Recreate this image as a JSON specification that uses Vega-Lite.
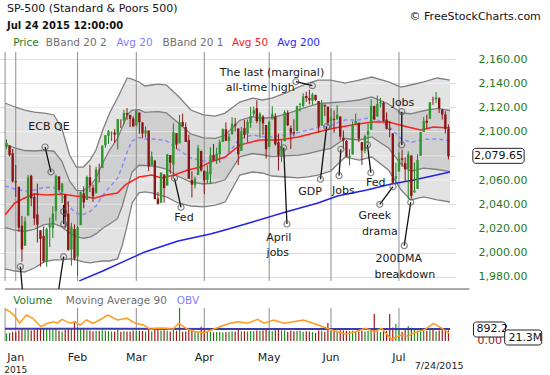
{
"$schema": "https://vega.github.io/schema/vega-lite/v6.json",
"width": 455, "height": 289,
"autosize": {"type": "none"},
"padding": {"left": 0, "top": 52, "right": 95, "bottom": 34},
"background": "#ffffff",
"config": {"view": {"stroke": null}, "font": "DejaVu Sans"},
"datasets": {
"ohlc": [
{"d":-3,"o":2087.6,"h":2093.6,"l":2085.8,"c":2090.6,"v":560},
{"d":-2,"o":2088.5,"h":2088.5,"l":2079.5,"c":2080.4,"v":600},
{"d":-1,"o":2082.1,"h":2085.6,"l":2057.9,"c":2058.9,"v":680},
{"d":0,"o":2058.9,"h":2072.4,"l":2046.0,"c":2058.2,"v":640},
{"d":1,"o":2054.4,"h":2054.4,"l":2017.3,"c":2020.6,"v":800},
{"d":2,"o":2022.2,"h":2030.3,"l":1992.4,"c":2002.6,"v":900},
{"d":3,"o":2005.6,"h":2029.6,"l":2005.6,"c":2025.9,"v":840},
{"d":4,"o":2030.6,"h":2064.1,"l":2030.6,"c":2062.1,"v":860},
{"d":5,"o":2063.5,"h":2064.4,"l":2038.3,"c":2044.8,"v":780},
{"d":6,"o":2046.1,"h":2049.3,"l":2022.6,"c":2028.3,"v":820},
{"d":7,"o":2031.6,"h":2056.9,"l":2008.3,"c":2023.0,"v":880},
{"d":8,"o":2018.4,"h":2018.4,"l":1988.4,"c":2011.3,"v":900},
{"d":9,"o":2013.8,"h":2021.4,"l":1991.5,"c":1992.7,"v":920},
{"d":10,"o":1992.3,"h":2020.5,"l":1988.1,"c":2019.4,"v":950},
{"d":11,"o":2020.8,"h":2028.9,"l":2004.5,"c":2022.6,"v":860},
{"d":12,"o":2020.2,"h":2038.3,"l":2012.0,"c":2032.1,"v":840},
{"d":13,"o":2034.3,"h":2064.6,"l":2026.4,"c":2063.2,"v":900},
{"d":14,"o":2063.0,"h":2063.0,"l":2050.5,"c":2051.8,"v":760},
{"d":15,"o":2050.4,"h":2057.6,"l":2041.0,"c":2057.1,"v":700},
{"d":16,"o":2047.9,"h":2047.9,"l":2019.9,"c":2029.6,"v":820},
{"d":17,"o":2032.3,"h":2042.5,"l":2001.5,"c":2002.2,"v":880},
{"d":18,"o":2002.5,"h":2024.6,"l":1989.2,"c":2021.3,"v":900},
{"d":19,"o":2019.4,"h":2023.3,"l":1993.4,"c":1995.0,"v":1385},
{"d":20,"o":1996.7,"h":2021.7,"l":1980.9,"c":2020.9,"v":900},
{"d":21,"o":2022.7,"h":2050.3,"l":2022.7,"c":2050.0,"v":920},
{"d":22,"o":2048.9,"h":2054.7,"l":2036.7,"c":2041.5,"v":860},
{"d":23,"o":2043.5,"h":2063.6,"l":2043.5,"c":2062.5,"v":800},
{"d":24,"o":2062.3,"h":2072.4,"l":2050.0,"c":2055.5,"v":780},
{"d":25,"o":2053.5,"h":2056.2,"l":2041.9,"c":2046.7,"v":720},
{"d":26,"o":2049.4,"h":2070.9,"l":2048.6,"c":2068.6,"v":760},
{"d":27,"o":2068.6,"h":2073.5,"l":2058.0,"c":2068.5,"v":740},
{"d":28,"o":2070.0,"h":2088.5,"l":2070.0,"c":2088.5,"v":800},
{"d":29,"o":2088.8,"h":2097.0,"l":2086.7,"c":2097.0,"v":760},
{"d":30,"o":2096.5,"h":2101.3,"l":2089.8,"c":2100.3,"v":740},
{"d":31,"o":2099.2,"h":2100.2,"l":2092.2,"c":2099.7,"v":700},
{"d":32,"o":2099.3,"h":2102.1,"l":2090.8,"c":2097.5,"v":700},
{"d":33,"o":2097.7,"h":2110.6,"l":2085.4,"c":2110.3,"v":820},
{"d":34,"o":2109.8,"h":2110.1,"l":2103.0,"c":2109.7,"v":680},
{"d":35,"o":2109.1,"h":2117.9,"l":2105.9,"c":2115.5,"v":720},
{"d":36,"o":2115.3,"h":2119.6,"l":2109.9,"c":2113.9,"v":700},
{"d":37,"o":2113.9,"h":2113.9,"l":2103.8,"c":2110.7,"v":700},
{"d":38,"o":2110.9,"h":2112.7,"l":2103.8,"c":2104.5,"v":760},
{"d":39,"o":2105.2,"h":2117.5,"l":2104.5,"c":2117.4,"v":720},
{"d":40,"o":2115.8,"h":2115.8,"l":2098.3,"c":2107.8,"v":760},
{"d":41,"o":2107.7,"h":2107.7,"l":2094.5,"c":2098.5,"v":740},
{"d":42,"o":2098.5,"h":2104.3,"l":2095.2,"c":2101.0,"v":700},
{"d":43,"o":2100.9,"h":2100.9,"l":2067.3,"c":2071.3,"v":860},
{"d":44,"o":2072.3,"h":2083.5,"l":2072.2,"c":2079.4,"v":720},
{"d":45,"o":2076.1,"h":2076.1,"l":2044.2,"c":2044.2,"v":880},
{"d":46,"o":2044.7,"h":2050.1,"l":2039.7,"c":2040.2,"v":820},
{"d":47,"o":2041.1,"h":2066.4,"l":2041.1,"c":2066.0,"v":780},
{"d":48,"o":2064.6,"h":2064.6,"l":2041.2,"c":2053.4,"v":800},
{"d":49,"o":2055.4,"h":2081.4,"l":2055.4,"c":2081.2,"v":760},
{"d":50,"o":2080.6,"h":2080.6,"l":2065.1,"c":2074.3,"v":700},
{"d":51,"o":2072.8,"h":2106.9,"l":2061.2,"c":2099.5,"v":900},
{"d":52,"o":2098.7,"h":2098.7,"l":2085.6,"c":2089.3,"v":760},
{"d":53,"o":2090.3,"h":2113.9,"l":2090.3,"c":2108.1,"v":2440},
{"d":54,"o":2108.0,"h":2114.9,"l":2104.4,"c":2104.4,"v":680},
{"d":55,"o":2103.9,"h":2107.6,"l":2091.5,"c":2091.5,"v":700},
{"d":56,"o":2093.1,"h":2097.4,"l":2061.1,"c":2061.1,"v":820},
{"d":57,"o":2059.9,"h":2067.2,"l":2045.5,"c":2056.2,"v":800},
{"d":58,"o":2055.8,"h":2062.8,"l":2053.0,"c":2061.0,"v":660},
{"d":59,"o":2064.1,"h":2089.0,"l":2064.1,"c":2086.2,"v":700},
{"d":60,"o":2084.1,"h":2084.1,"l":2067.0,"c":2067.9,"v":1060},
{"d":61,"o":2067.6,"h":2067.6,"l":2048.4,"c":2059.7,"v":800},
{"d":62,"o":2060.0,"h":2072.2,"l":2057.3,"c":2067.0,"v":720},
{"d":63,"o":2064.9,"h":2087.0,"l":2056.5,"c":2080.6,"v":680},
{"d":64,"o":2080.8,"h":2089.8,"l":2076.1,"c":2076.3,"v":640},
{"d":65,"o":2076.9,"h":2086.7,"l":2073.3,"c":2081.9,"v":660},
{"d":66,"o":2081.3,"h":2093.3,"l":2074.3,"c":2091.2,"v":660},
{"d":67,"o":2091.5,"h":2102.6,"l":2091.5,"c":2102.1,"v":620},
{"d":68,"o":2102.0,"h":2107.7,"l":2092.3,"c":2092.4,"v":660},
{"d":69,"o":2092.3,"h":2098.6,"l":2083.2,"c":2095.8,"v":680},
{"d":70,"o":2097.8,"h":2111.9,"l":2097.8,"c":2106.6,"v":720},
{"d":71,"o":2106.0,"h":2111.3,"l":2100.0,"c":2105.0,"v":700},
{"d":72,"o":2102.6,"h":2102.6,"l":2072.4,"c":2081.2,"v":860},
{"d":73,"o":2084.1,"h":2103.9,"l":2084.1,"c":2100.4,"v":700},
{"d":74,"o":2102.8,"h":2109.6,"l":2094.4,"c":2097.3,"v":720},
{"d":75,"o":2098.3,"h":2110.0,"l":2091.1,"c":2108.0,"v":700},
{"d":76,"o":2107.2,"h":2120.5,"l":2103.2,"c":2112.9,"v":740},
{"d":77,"o":2114.8,"h":2120.9,"l":2112.7,"c":2117.7,"v":720},
{"d":78,"o":2119.3,"h":2125.9,"l":2107.0,"c":2108.9,"v":780},
{"d":79,"o":2108.4,"h":2116.0,"l":2094.9,"c":2114.8,"v":760},
{"d":80,"o":2112.5,"h":2113.7,"l":2097.4,"c":2106.9,"v":780},
{"d":81,"o":2105.5,"h":2105.5,"l":2077.6,"c":2085.5,"v":880},
{"d":82,"o":2087.4,"h":2108.4,"l":2087.4,"c":2108.3,"v":760},
{"d":83,"o":2110.2,"h":2121.0,"l":2110.2,"c":2114.5,"v":720},
{"d":84,"o":2112.6,"h":2115.2,"l":2088.5,"c":2089.5,"v":800},
{"d":85,"o":2091.3,"h":2098.4,"l":2067.9,"c":2080.2,"v":860},
{"d":86,"o":2080.0,"h":2092.9,"l":2075.0,"c":2088.0,"v":780},
{"d":87,"o":2092.1,"h":2117.7,"l":2092.1,"c":2116.1,"v":780},
{"d":88,"o":2115.6,"h":2117.7,"l":2104.6,"c":2105.3,"v":680},
{"d":89,"o":2102.9,"h":2105.1,"l":2085.6,"c":2099.1,"v":760},
{"d":90,"o":2099.6,"h":2110.2,"l":2096.0,"c":2098.5,"v":720},
{"d":91,"o":2100.4,"h":2121.5,"l":2100.4,"c":2121.1,"v":740},
{"d":92,"o":2122.1,"h":2123.9,"l":2116.8,"c":2122.7,"v":760},
{"d":93,"o":2121.3,"h":2131.8,"l":2120.0,"c":2129.2,"v":680},
{"d":94,"o":2129.5,"h":2133.0,"l":2124.5,"c":2127.8,"v":720},
{"d":95,"o":2127.8,"h":2134.7,"l":2122.6,"c":2125.9,"v":700},
{"d":96,"o":2125.6,"h":2132.2,"l":2122.3,"c":2130.8,"v":660},
{"d":97,"o":2130.4,"h":2130.4,"l":2125.6,"c":2126.1,"v":600},
{"d":98,"o":2125.3,"h":2125.3,"l":2099.2,"c":2104.2,"v":780},
{"d":99,"o":2105.1,"h":2126.2,"l":2105.1,"c":2123.5,"v":760},
{"d":100,"o":2122.3,"h":2122.3,"l":2112.9,"c":2120.8,"v":680},
{"d":101,"o":2120.7,"h":2120.7,"l":2104.9,"c":2107.4,"v":1330},
{"d":102,"o":2108.6,"h":2119.2,"l":2102.5,"c":2111.7,"v":760},
{"d":103,"o":2110.4,"h":2117.6,"l":2099.1,"c":2109.6,"v":720},
{"d":104,"o":2110.6,"h":2121.9,"l":2109.6,"c":2114.1,"v":760},
{"d":105,"o":2112.4,"h":2112.9,"l":2093.2,"c":2095.8,"v":800},
{"d":106,"o":2095.1,"h":2101.0,"l":2085.7,"c":2092.8,"v":780},
{"d":107,"o":2092.3,"h":2093.0,"l":2079.1,"c":2079.3,"v":760},
{"d":108,"o":2079.1,"h":2085.6,"l":2072.1,"c":2080.2,"v":740},
{"d":109,"o":2081.1,"h":2108.5,"l":2081.1,"c":2105.2,"v":760},
{"d":110,"o":2106.2,"h":2115.0,"l":2106.2,"c":2108.9,"v":680},
{"d":111,"o":2107.4,"h":2107.4,"l":2091.3,"c":2094.1,"v":700},
{"d":112,"o":2091.3,"h":2091.3,"l":2072.5,"c":2084.4,"v":760},
{"d":113,"o":2084.3,"h":2097.4,"l":2082.1,"c":2096.3,"v":700},
{"d":114,"o":2097.4,"h":2106.8,"l":2088.9,"c":2100.4,"v":760},
{"d":115,"o":2101.6,"h":2126.7,"l":2101.6,"c":2121.2,"v":800},
{"d":116,"o":2121.1,"h":2121.6,"l":2109.5,"c":2110.0,"v":2000},
{"d":117,"o":2112.5,"h":2129.9,"l":2112.5,"c":2122.9,"v":700},
{"d":118,"o":2123.2,"h":2128.0,"l":2119.9,"c":2124.2,"v":680},
{"d":119,"o":2123.7,"h":2125.1,"l":2108.6,"c":2108.6,"v":780},
{"d":120,"o":2110.0,"h":2116.0,"l":2101.8,"c":2102.3,"v":760},
{"d":121,"o":2102.6,"h":2108.9,"l":2095.4,"c":2101.5,"v":2000},
{"d":122,"o":2098.6,"h":2098.6,"l":2056.6,"c":2057.6,"v":1000},
{"d":123,"o":2061.2,"h":2074.3,"l":2056.3,"c":2063.1,"v":1260},
{"d":124,"o":2067.0,"h":2082.8,"l":2067.0,"c":2077.4,"v":820},
{"d":125,"o":2078.0,"h":2085.1,"l":2071.0,"c":2076.8,"v":680},
{"d":126,"o":2074.0,"h":2078.6,"l":2058.4,"c":2068.8,"v":860},
{"d":127,"o":2069.5,"h":2083.7,"l":2044.0,"c":2081.3,"v":1110},
{"d":128,"o":2080.3,"h":2080.3,"l":2044.6,"c":2046.7,"v":980},
{"d":129,"o":2049.7,"h":2074.3,"l":2049.7,"c":2051.3,"v":860},
{"d":130,"o":2052.7,"h":2081.3,"l":2052.7,"c":2076.6,"v":780},
{"d":131,"o":2080.0,"h":2099.9,"l":2080.0,"c":2099.6,"v":820},
{"d":132,"o":2099.7,"h":2112.0,"l":2099.7,"c":2109.0,"v":780},
{"d":133,"o":2109.0,"h":2114.1,"l":2102.5,"c":2107.4,"v":760},
{"d":134,"o":2110.6,"h":2124.4,"l":2110.6,"c":2124.3,"v":800},
{"d":135,"o":2126.8,"h":2128.9,"l":2122.1,"c":2126.6,"v":880},
{"d":136,"o":2126.9,"h":2132.8,"l":2123.7,"c":2128.3,"v":720},
{"d":137,"o":2127.6,"h":2128.5,"l":2115.4,"c":2119.2,"v":780},
{"d":138,"o":2118.2,"h":2118.5,"l":2110.0,"c":2114.2,"v":800},
{"d":139,"o":2114.2,"h":2116.9,"l":2098.6,"c":2102.2,"v":820},
{"d":140,"o":2102.2,"h":2106.0,"l":2077.1,"c":2079.65,"v":780}
],
"bands": [
{"d":-3.48,"u2":2123.7,"u1":2089.4,"m":2055.1,"l1":2020.7,"l2":1986.4},
{"d":-0.32,"u2":2120.4,"u1":2086.5,"m":2052.6,"l1":2018.6,"l2":1984.7},
{"d":2.85,"u2":2117.9,"u1":2084.4,"m":2050.9,"l1":2017.4,"l2":1983.9},
{"d":6.01,"u2":2116.2,"u1":2084.0,"m":2051.7,"l1":2019.4,"l2":1987.2},
{"d":9.18,"u2":2115.4,"u1":2084.6,"m":2053.8,"l1":2023.0,"l2":1992.2},
{"d":12.34,"u2":2113.8,"u1":2083.8,"m":2053.9,"l1":2023.9,"l2":1993.9},
{"d":14.87,"u2":2103.0,"u1":2075.7,"m":2048.5,"l1":2021.2,"l2":1993.9},
{"d":17.41,"u2":2080.7,"u1":2059.2,"m":2037.7,"l1":2016.2,"l2":1994.7},
{"d":19.62,"u2":2070.7,"u1":2051.5,"m":2032.3,"l1":2013.1,"l2":1993.9},
{"d":21.84,"u2":2070.7,"u1":2051.1,"m":2031.5,"l1":2011.8,"l2":1992.2},
{"d":24.05,"u2":2076.5,"u1":2055.2,"m":2034.0,"l1":2012.7,"l2":1991.4},
{"d":25.95,"u2":2084.8,"u1":2061.6,"m":2038.5,"l1":2015.4,"l2":1992.2},
{"d":28.16,"u2":2101.3,"u1":2074.2,"m":2047.2,"l1":2020.1,"l2":1993.0},
{"d":30.38,"u2":2115.4,"u1":2084.8,"m":2054.2,"l1":2023.6,"l2":1993.0},
{"d":32.91,"u2":2127.8,"u1":2094.5,"m":2061.3,"l1":2028.0,"l2":1994.7},
{"d":34.49,"u2":2136.1,"u1":2103.6,"m":2071.2,"l1":2038.7,"l2":2006.2},
{"d":36.08,"u2":2144.4,"u1":2114.0,"m":2083.6,"l1":2053.2,"l2":2022.8},
{"d":37.66,"u2":2143.5,"u1":2117.9,"m":2092.3,"l1":2066.6,"l2":2041.0},
{"d":39.87,"u2":2141.1,"u1":2118.2,"m":2095.2,"l1":2072.2,"l2":2049.3},
{"d":41.77,"u2":2137.8,"u1":2115.9,"m":2094.0,"l1":2072.0,"l2":2050.1},
{"d":43.99,"u2":2138.6,"u1":2116.3,"m":2094.0,"l1":2071.6,"l2":2049.3},
{"d":46.2,"u2":2139.4,"u1":2116.5,"m":2093.5,"l1":2070.6,"l2":2047.6},
{"d":48.73,"u2":2138.6,"u1":2115.5,"m":2092.3,"l1":2069.1,"l2":2046.0},
{"d":52.53,"u2":2129.5,"u1":2107.4,"m":2085.3,"l1":2063.1,"l2":2041.0},
{"d":56.65,"u2":2117.9,"u1":2098.1,"m":2078.2,"l1":2058.3,"l2":2038.5},
{"d":60.76,"u2":2113.8,"u1":2094.8,"m":2075.7,"l1":2056.7,"l2":2037.7},
{"d":64.56,"u2":2112.9,"u1":2094.5,"m":2076.1,"l1":2057.7,"l2":2039.3},
{"d":67.72,"u2":2115.4,"u1":2097.0,"m":2078.6,"l1":2060.2,"l2":2041.8},
{"d":72.47,"u2":2124.5,"u1":2109.4,"m":2094.3,"l1":2079.2,"l2":2064.1},
{"d":76.58,"u2":2127.8,"u1":2112.5,"m":2097.2,"l1":2081.9,"l2":2066.6},
{"d":79.75,"u2":2126.2,"u1":2111.1,"m":2096.0,"l1":2080.9,"l2":2065.8},
{"d":82.91,"u2":2127.8,"u1":2111.7,"m":2095.6,"l1":2079.4,"l2":2063.3},
{"d":87.34,"u2":2132.0,"u1":2114.6,"m":2097.3,"l1":2079.9,"l2":2062.5},
{"d":91.46,"u2":2136.9,"u1":2118.1,"m":2099.3,"l1":2080.5,"l2":2061.7},
{"d":94.62,"u2":2140.2,"u1":2120.8,"m":2101.4,"l1":2081.9,"l2":2062.5},
{"d":97.78,"u2":2142.7,"u1":2123.1,"m":2103.4,"l1":2083.8,"l2":2064.1},
{"d":101.9,"u2":2142.7,"u1":2123.9,"m":2105.1,"l1":2086.2,"l2":2067.4},
{"d":106.6,"u2":2140.2,"u1":2124.9,"m":2109.6,"l1":2094.3,"l2":2079.0},
{"d":111.1,"u2":2142.7,"u1":2126.2,"m":2109.6,"l1":2093.1,"l2":2076.5},
{"d":115.2,"u2":2145.2,"u1":2128.7,"m":2112.1,"l1":2095.6,"l2":2079.0},
{"d":120.6,"u2":2141.1,"u1":2122.9,"m":2104.7,"l1":2086.5,"l2":2068.3},
{"d":124.7,"u2":2136.9,"u1":2115.6,"m":2094.3,"l1":2073.0,"l2":2051.7},
{"d":127.8,"u2":2138.6,"u1":2114.8,"m":2091.1,"l1":2067.3,"l2":2043.5},
{"d":132.0,"u2":2141.1,"u1":2117.3,"m":2093.6,"l1":2069.8,"l2":2046.0},
{"d":136.4,"u2":2144.4,"u1":2119.2,"m":2094.0,"l1":2068.7,"l2":2043.5},
{"d":140.51,"u2":2142.7,"u1":2117.5,"m":2092.3,"l1":2066.9,"l2":2041.8}
],
"ma50": [
{"d":-3.48,"v":2031.0},{"d":-0.32,"v":2041.0},{"d":2.85,"v":2045.1},{"d":6.01,"v":2048.4},{"d":10.13,"v":2047.6},{"d":14.87,"v":2048.4},{"d":19.3,"v":2046.8},{"d":22.47,"v":2046.0},{"d":25.63,"v":2045.1},{"d":29.11,"v":2047.6},{"d":32.91,"v":2049.3},{"d":35.44,"v":2055.9},{"d":39.87,"v":2062.5},{"d":43.99,"v":2064.1},{"d":47.15,"v":2061.7},{"d":51.27,"v":2064.1},{"d":55.7,"v":2068.3},{"d":59.81,"v":2070.7},{"d":62.97,"v":2074.9},{"d":67.72,"v":2079.0},{"d":72.47,"v":2088.9},{"d":78.8,"v":2093.1},{"d":85.13,"v":2093.1},{"d":91.46,"v":2095.6},{"d":97.78,"v":2099.7},{"d":103.16,"v":2103.0},{"d":108.86,"v":2105.5},{"d":115.19,"v":2108.0},{"d":120.57,"v":2108.0},{"d":126.9,"v":2103.8},{"d":131.01,"v":2101.3},{"d":135.13,"v":2103.8},{"d":140.51,"v":2103.0}
],
"ma200": [
{"d":20.57,"v":1976.5},{"d":28.16,"v":1984.7},{"d":36.08,"v":1993.9},{"d":41.77,"v":2000.5},{"d":52.53,"v":2009.6},{"d":62.97,"v":2015.3},{"d":67.72,"v":2018.7},{"d":76.58,"v":2025.3},{"d":87.34,"v":2033.6},{"d":97.78,"v":2041.0},{"d":104.11,"v":2046.8},{"d":113.61,"v":2051.7},{"d":121.52,"v":2056.7},{"d":128.8,"v":2060.0},{"d":140.51,"v":2066.6}
],
"vma": [{"d":-3.48,"v":900},{"d":30,"v":898},{"d":70,"v":896},{"d":110,"v":897},{"d":140.51,"v":896}],
"obv": [
{"d":-3.48,"v":264.3},{"d":-1.9,"v":237.3},{"d":-0.32,"v":194.3},{"d":1.27,"v":121.3},{"d":3.39,"v":204.3},{"d":5.47,"v":171.3},{"d":8.13,"v":87.3},{"d":10.22,"v":121.3},{"d":12.34,"v":137.3},{"d":13.39,"v":121.3},{"d":14.97,"v":161.3},{"d":17.63,"v":121.3},{"d":19.21,"v":137.3},{"d":20.79,"v":104.3},{"d":22.88,"v":154.3},{"d":25.0,"v":121.3},{"d":27.12,"v":154.3},{"d":29.75,"v":204.3},{"d":32.91,"v":154.3},{"d":36.08,"v":171.3},{"d":38.7,"v":121.3},{"d":41.36,"v":104.3},{"d":43.45,"v":61.3},{"d":45.57,"v":71.3},{"d":48.2,"v":71.3},{"d":50.85,"v":61.3},{"d":52.75,"v":121.3},{"d":55.6,"v":61.3},{"d":58.23,"v":37.3},{"d":60.85,"v":27.3},{"d":64.02,"v":61.3},{"d":66.68,"v":94.3},{"d":69.3,"v":121.3},{"d":71.93,"v":137.3},{"d":75.09,"v":121.3},{"d":78.26,"v":161.3},{"d":80.38,"v":121.3},{"d":83.54,"v":154.3},{"d":86.71,"v":121.3},{"d":89.87,"v":137.3},{"d":93.04,"v":154.3},{"d":96.2,"v":121.3},{"d":99.37,"v":87.3},{"d":101.49,"v":61.3},{"d":104.11,"v":37.3},{"d":106.74,"v":11.3},{"d":109.91,"v":37.3},{"d":113.07,"v":71.3},{"d":116.23,"v":37.3},{"d":118.35,"v":71.3},{"d":121.52,"v":-38.7},{"d":124.68,"v":4.3},{"d":126.8,"v":-5.7},{"d":129.97,"v":37.3},{"d":132.06,"v":54.3},{"d":135.22,"v":121.3},{"d":137.88,"v":71.3},{"d":140.28,"v":21.3}
],
"months": [{"d":-3.45,"n":""},{"d":0,"n":"Jan"},{"d":20,"n":"Feb"},{"d":39,"n":"Mar"},{"d":61,"n":"Apr"},{"d":82,"n":"May"},{"d":102,"n":"Jun"},{"d":124,"n":"Jul"}],
"hgrid": [{"p":1980},{"p":2000},{"p":2020},{"p":2040},{"p":2060},{"p":2080},{"p":2100},{"p":2120},{"p":2140},{"p":2160}],
"callouts": [
{"g":1,"d":9.49,"p":2087.3,"c":1},{"g":1,"d":11.39,"p":2066.6,"c":1},
{"g":2,"d":15.5,"p":2039.3,"c":0},{"g":2,"d":15.5,"p":2033.8,"c":1},{"g":2,"d":15.5,"p":2023.6,"c":1},
{"g":3,"d":15.5,"p":1996.6,"c":1},{"g":3,"d":13.92,"p":1969.8,"c":0},
{"g":4,"d":1.49,"p":1988.3,"c":1},{"g":4,"d":2.12,"p":1969.8,"c":0},
{"g":5,"d":51.36,"p":2061.4,"c":1},{"g":5,"d":53.48,"p":2037.4,"c":1},
{"g":6,"d":90.66,"p":2141.3,"c":1},{"g":6,"d":95.98,"p":2138.0,"c":1},
{"g":7,"d":86.7,"p":2086.7,"c":1},{"g":7,"d":87.75,"p":2023.6,"c":1},
{"g":8,"d":100.6,"p":2104.1,"c":1},{"g":8,"d":98.6,"p":2060.6,"c":1},
{"g":9,"d":105.2,"p":2085.4,"c":1},{"g":9,"d":104.6,"p":2063.6,"c":1},
{"g":10,"d":113.8,"p":2089.0,"c":1},{"g":10,"d":114.9,"p":2066.0,"c":1},
{"g":11,"d":122.06,"p":2054.5,"c":1},{"g":11,"d":117.8,"p":2039.9,"c":1},
{"g":12,"d":124.9,"p":2116.5,"c":1},{"g":12,"d":124.9,"p":2089.0,"c":1},
{"g":13,"d":127.8,"p":2041.6,"c":1},{"g":13,"d":125.7,"p":2005.7,"c":1}
],
"notes": [
{"t":"ECB QE","d":10.76,"p":2103.8},
{"t":"Fed","d":54.4,"p":2028.8},
{"t":"The last (marginal)","d":82.9,"p":2148.8},
{"t":"all-time  high","d":79.1,"p":2135.8},
{"t":"April","d":85.1,"p":2011.8},
{"t":"jobs","d":84.8,"p":1999.4},
{"t":"GDP","d":95.2,"p":2049.8},
{"t":"Jobs","d":106.0,"p":2050.9},
{"t":"Fed","d":116.5,"p":2057.3},
{"t":"Greek","d":116.2,"p":2030.2},
{"t":"drama","d":117.8,"p":2016.7},
{"t":"Jobs","d":125.3,"p":2123.9},
{"t":"200DMA","d":123.9,"p":1994.4},
{"t":"breakdown","d":125.9,"p":1981.4}
],
"legend": [
{"t":"Price","d":-0.85,"k":"a"},{"t":"BBand 20 2","d":9.72,"k":"b"},{"t":"Avg 20","d":32.6,"k":"c"},{"t":"BBand 20 1","d":47.5,"k":"b"},{"t":"Avg 50","d":70.0,"k":"d"},{"t":"Avg 200","d":84.6,"k":"e"}
],
"vlegend": [
{"t":"Volume","d":-0.85,"k":"v"},{"t":"Moving Average 90","d":16.2,"k":"m"},{"t":"OBV","d":52.1,"k":"o"}
]
},
"resolve": {"scale": {"y": "independent"}},
"layer": [
{"data": {"name": "bands"}, "mark": {"type": "area", "color": "#e3e3e3"},
 "encoding": {"x": {"field": "d", "type": "quantitative", "scale": {"domain": [-3.48, 140.51], "nice": false, "zero": false}, "axis": null},
  "y": {"field": "u2", "type": "quantitative", "scale": {"domain": [1926.8, 2165.9], "nice": false, "zero": false},
   "axis": {"orient": "right", "values": [1980, 2000, 2020, 2040, 2060, 2080, 2100, 2120, 2140, 2160], "labelExpr": "datum.value == 2080 ? '' : format(datum.value, ',.2f')", "labelColor": "#1e7a1e", "labelFontSize": 11, "labelFont": "DejaVu Sans", "ticks": false, "domain": false, "grid": true, "gridColor": "#d9d9d9", "labelPadding": 23, "title": null}},
  "y2": {"field": "l2"}}},
{"data": {"name": "bands"}, "mark": {"type": "area", "color": "#cfcfcf"},
 "encoding": {"x": {"field": "d", "type": "quantitative", "scale": {"domain": [-3.48, 140.51], "nice": false, "zero": false}, "axis": null},
  "y": {"field": "u1", "type": "quantitative", "scale": {"domain": [1926.8, 2165.9], "nice": false, "zero": false}, "axis": null},
  "y2": {"field": "l1"}}},
{"data": {"name": "hgrid"}, "mark": {"type": "rule", "color": "#ffffff", "opacity": 0.5, "strokeWidth": 1},
 "encoding": {"x": {"datum": -3.48, "type": "quantitative", "scale": {"domain": [-3.48, 140.51], "nice": false, "zero": false}, "axis": null},
  "x2": {"datum": 140.51},
  "y": {"field": "p", "type": "quantitative", "scale": {"domain": [1926.8, 2165.9], "nice": false, "zero": false}, "axis": null}}},
{"data": {"name": "months"}, "mark": {"type": "rule", "color": "#8c8c8c", "strokeWidth": 1},
 "encoding": {"x": {"field": "d", "type": "quantitative", "scale": {"domain": [-3.48, 140.51], "nice": false, "zero": false}, "axis": null},
  "y": {"datum": 2165.9, "type": "quantitative", "scale": {"domain": [1926.8, 2165.9], "nice": false, "zero": false}, "axis": null},
  "y2": {"datum": 1976.5}}},
{"data": {"name": "bands"}, "mark": {"type": "line", "color": "#808080", "strokeWidth": 1.3},
 "encoding": {"x": {"field": "d", "type": "quantitative", "scale": {"domain": [-3.48, 140.51], "nice": false, "zero": false}, "axis": null},
  "y": {"field": "u2", "type": "quantitative", "scale": {"domain": [1926.8, 2165.9], "nice": false, "zero": false}, "axis": null}}},
{"data": {"name": "bands"}, "mark": {"type": "line", "color": "#808080", "strokeWidth": 1.3},
 "encoding": {"x": {"field": "d", "type": "quantitative", "scale": {"domain": [-3.48, 140.51], "nice": false, "zero": false}, "axis": null},
  "y": {"field": "l2", "type": "quantitative", "scale": {"domain": [1926.8, 2165.9], "nice": false, "zero": false}, "axis": null}}},
{"data": {"name": "bands"}, "mark": {"type": "line", "color": "#808080", "strokeWidth": 1.3},
 "encoding": {"x": {"field": "d", "type": "quantitative", "scale": {"domain": [-3.48, 140.51], "nice": false, "zero": false}, "axis": null},
  "y": {"field": "u1", "type": "quantitative", "scale": {"domain": [1926.8, 2165.9], "nice": false, "zero": false}, "axis": null}}},
{"data": {"name": "bands"}, "mark": {"type": "line", "color": "#808080", "strokeWidth": 1.3},
 "encoding": {"x": {"field": "d", "type": "quantitative", "scale": {"domain": [-3.48, 140.51], "nice": false, "zero": false}, "axis": null},
  "y": {"field": "l1", "type": "quantitative", "scale": {"domain": [1926.8, 2165.9], "nice": false, "zero": false}, "axis": null}}},
{"data": {"name": "bands"}, "mark": {"type": "line", "color": "#8a8aff", "strokeWidth": 1.5, "strokeDash": [4, 3]},
 "encoding": {"x": {"field": "d", "type": "quantitative", "scale": {"domain": [-3.48, 140.51], "nice": false, "zero": false}, "axis": null},
  "y": {"field": "m", "type": "quantitative", "scale": {"domain": [1926.8, 2165.9], "nice": false, "zero": false}, "axis": null}}},
{"data": {"name": "ma50"}, "mark": {"type": "line", "color": "#ff2020", "strokeWidth": 1.5},
 "encoding": {"x": {"field": "d", "type": "quantitative", "scale": {"domain": [-3.48, 140.51], "nice": false, "zero": false}, "axis": null},
  "y": {"field": "v", "type": "quantitative", "scale": {"domain": [1926.8, 2165.9], "nice": false, "zero": false}, "axis": null}}},
{"data": {"name": "ma200"}, "mark": {"type": "line", "color": "#2222e8", "strokeWidth": 1.5},
 "encoding": {"x": {"field": "d", "type": "quantitative", "scale": {"domain": [-3.48, 140.51], "nice": false, "zero": false}, "axis": null},
  "y": {"field": "v", "type": "quantitative", "scale": {"domain": [1926.8, 2165.9], "nice": false, "zero": false}, "axis": null}}},
{"data": {"values": [{}]}, "mark": {"type": "rule", "color": "#555555", "strokeWidth": 1},
 "encoding": {"x": {"datum": -3.48, "type": "quantitative", "scale": {"domain": [-3.48, 140.51], "nice": false, "zero": false}, "axis": null},
  "x2": {"datum": 146.8},
  "y": {"datum": 1969.8, "type": "quantitative", "scale": {"domain": [1926.8, 2165.9], "nice": false, "zero": false}, "axis": null}}},
{"data": {"name": "ohlc"}, "mark": {"type": "rule", "strokeWidth": 1},
 "encoding": {"x": {"field": "d", "type": "quantitative", "scale": {"domain": [-3.48, 140.51], "nice": false, "zero": false}, "axis": null},
  "y": {"field": "l", "type": "quantitative", "scale": {"domain": [1926.8, 2165.9], "nice": false, "zero": false}, "axis": null},
  "y2": {"field": "h"},
  "color": {"condition": {"test": "datum.c >= datum.o", "value": "#1f7f1f"}, "value": "#8b1414"}}},
{"data": {"name": "ohlc"}, "mark": {"type": "bar", "size": 2.4},
 "encoding": {"x": {"field": "d", "type": "quantitative", "scale": {"domain": [-3.48, 140.51], "nice": false, "zero": false}, "axis": null},
  "y": {"field": "o", "type": "quantitative", "scale": {"domain": [1926.8, 2165.9], "nice": false, "zero": false}, "axis": null},
  "y2": {"field": "c"},
  "color": {"condition": {"test": "datum.c >= datum.o", "value": "#2f962f"}, "value": "#8b1414"}}},
{"data": {"name": "callouts"}, "mark": {"type": "line", "color": "#111111", "strokeWidth": 1.3},
 "encoding": {"x": {"field": "d", "type": "quantitative", "scale": {"domain": [-3.48, 140.51], "nice": false, "zero": false}, "axis": null},
  "y": {"field": "p", "type": "quantitative", "scale": {"domain": [1926.8, 2165.9], "nice": false, "zero": false}, "axis": null},
  "detail": {"field": "g"}, "order": {"field": "p"}}},
{"data": {"name": "callouts"}, "transform": [{"filter": "datum.c == 1"}], "mark": {"type": "point", "shape": "circle", "filled": false, "size": 36, "color": "#555555", "strokeWidth": 1.2},
 "encoding": {"x": {"field": "d", "type": "quantitative", "scale": {"domain": [-3.48, 140.51], "nice": false, "zero": false}, "axis": null},
  "y": {"field": "p", "type": "quantitative", "scale": {"domain": [1926.8, 2165.9], "nice": false, "zero": false}, "axis": null}}},
{"data": {"name": "notes"}, "mark": {"type": "text", "font": "DejaVu Sans", "fontSize": 11, "color": "#1a1a1a", "align": "center", "baseline": "middle"},
 "encoding": {"x": {"field": "d", "type": "quantitative", "scale": {"domain": [-3.48, 140.51], "nice": false, "zero": false}, "axis": null},
  "y": {"field": "p", "type": "quantitative", "scale": {"domain": [1926.8, 2165.9], "nice": false, "zero": false}, "axis": null},
  "text": {"field": "t"}}},
{"data": {"name": "legend"}, "mark": {"type": "text", "font": "DejaVu Sans", "fontSize": 10.5, "align": "left", "baseline": "middle"},
 "encoding": {"x": {"field": "d", "type": "quantitative", "scale": {"domain": [-3.48, 140.51], "nice": false, "zero": false}, "axis": null},
  "y": {"datum": 2173.1, "type": "quantitative", "scale": {"domain": [1926.8, 2165.9], "nice": false, "zero": false}, "axis": null},
  "text": {"field": "t"},
  "color": {"field": "k", "type": "nominal", "scale": {"domain": ["a", "b", "c", "d", "e"], "range": ["#1f7a1f", "#707070", "#8080ff", "#ff1a1a", "#2a2aff"]}, "legend": null}}},
{"data": {"values": [{}]}, "mark": {"type": "text", "font": "DejaVu Sans", "fontSize": 11, "align": "left", "baseline": "middle", "color": "#111111"},
 "encoding": {"x": {"datum": -2.85, "type": "quantitative", "scale": {"domain": [-3.48, 140.51], "nice": false, "zero": false}, "axis": null},
  "y": {"datum": 2201.4, "type": "quantitative", "scale": {"domain": [1926.8, 2165.9], "nice": false, "zero": false}, "axis": null},
  "text": {"value": "SP-500 (Standard & Poors 500)"}}},
{"data": {"values": [{}]}, "mark": {"type": "text", "font": "DejaVu Sans", "fontSize": 10, "fontWeight": "bold", "align": "left", "baseline": "middle", "color": "#111111"},
 "encoding": {"x": {"datum": -2.85, "type": "quantitative", "scale": {"domain": [-3.48, 140.51], "nice": false, "zero": false}, "axis": null},
  "y": {"datum": 2187.8, "type": "quantitative", "scale": {"domain": [1926.8, 2165.9], "nice": false, "zero": false}, "axis": null},
  "text": {"value": "Jul 24 2015 12:00:00"}}},
{"data": {"values": [{}]}, "mark": {"type": "text", "font": "DejaVu Sans", "fontSize": 11, "align": "right", "baseline": "middle", "color": "#111111"},
 "encoding": {"x": {"datum": 169.9, "type": "quantitative", "scale": {"domain": [-3.48, 140.51], "nice": false, "zero": false}, "axis": null},
  "y": {"datum": 2195.1, "type": "quantitative", "scale": {"domain": [1926.8, 2165.9], "nice": false, "zero": false}, "axis": null},
  "text": {"value": "© FreeStockCharts.com"}}},
{"data": {"values": [{}]}, "mark": {"type": "rect", "fill": "#ffffff", "stroke": "#222222", "strokeWidth": 1, "cornerRadius": 3},
 "encoding": {"x": {"datum": 147.9, "type": "quantitative", "scale": {"domain": [-3.48, 140.51], "nice": false, "zero": false}, "axis": null},
  "x2": {"datum": 164.5},
  "y": {"datum": 2086.2, "type": "quantitative", "scale": {"domain": [1926.8, 2165.9], "nice": false, "zero": false}, "axis": null},
  "y2": {"datum": 2073.8}}},
{"data": {"values": [{}]}, "mark": {"type": "text", "font": "DejaVu Sans", "fontSize": 11, "align": "center", "baseline": "middle", "color": "#111111"},
 "encoding": {"x": {"datum": 156.2, "type": "quantitative", "scale": {"domain": [-3.48, 140.51], "nice": false, "zero": false}, "axis": null},
  "y": {"datum": 2080.0, "type": "quantitative", "scale": {"domain": [1926.8, 2165.9], "nice": false, "zero": false}, "axis": null},
  "text": {"value": "2,079.65"}}},
{"data": {"name": "months"}, "mark": {"type": "rule", "color": "#8c8c8c", "strokeWidth": 1},
 "encoding": {"x": {"field": "d", "type": "quantitative", "scale": {"domain": [-3.48, 140.51], "nice": false, "zero": false}, "axis": null},
  "y": {"datum": 2442, "type": "quantitative", "scale": {"domain": [0, 21386], "nice": false, "zero": false}, "axis": null},
  "y2": {"datum": 0}}},
{"data": {"name": "months"}, "transform": [{"filter": "datum.n != ''"}], "mark": {"type": "text", "font": "DejaVu Sans", "fontSize": 11, "align": "center", "baseline": "middle", "color": "#222222"},
 "encoding": {"x": {"field": "d", "type": "quantitative", "scale": {"domain": [-3.48, 140.51], "nice": false, "zero": false}, "axis": null},
  "y": {"datum": -1260, "type": "quantitative", "scale": {"domain": [0, 21386], "nice": false, "zero": false}, "axis": null},
  "text": {"field": "n"}}},
{"data": {"name": "ohlc"}, "mark": {"type": "rule", "strokeWidth": 1.2},
 "encoding": {"x": {"field": "d", "type": "quantitative", "scale": {"domain": [-3.48, 140.51], "nice": false, "zero": false}, "axis": null},
  "y": {"field": "v", "type": "quantitative", "scale": {"domain": [0, 21386], "nice": false, "zero": false}, "axis": null},
  "y2": {"datum": 0},
  "color": {"condition": {"test": "datum.c >= datum.o", "value": "#1f8a1f"}, "value": "#a01818"}}},
{"data": {"name": "vma"}, "mark": {"type": "line", "color": "#3c3ca8", "strokeWidth": 2},
 "encoding": {"x": {"field": "d", "type": "quantitative", "scale": {"domain": [-3.48, 140.51], "nice": false, "zero": false}, "axis": null},
  "y": {"field": "v", "type": "quantitative", "scale": {"domain": [0, 21386], "nice": false, "zero": false}, "axis": null}}},
{"data": {"name": "vlegend"}, "mark": {"type": "text", "font": "DejaVu Sans", "fontSize": 10.5, "align": "left", "baseline": "middle"},
 "encoding": {"x": {"field": "d", "type": "quantitative", "scale": {"domain": [-3.48, 140.51], "nice": false, "zero": false}, "axis": null},
  "y": {"datum": 2997, "type": "quantitative", "scale": {"domain": [0, 21386], "nice": false, "zero": false}, "axis": null},
  "text": {"field": "t"},
  "color": {"field": "k", "type": "nominal", "scale": {"domain": ["v", "m", "o"], "range": ["#8b1a1a", "#2b2b8c", "#ff9900"]}, "legend": null}}},
{"data": {"values": [{}]}, "mark": {"type": "text", "font": "DejaVu Sans", "fontSize": 9.5, "align": "center", "baseline": "middle", "color": "#222222"},
 "encoding": {"x": {"datum": 137.0, "type": "quantitative", "scale": {"domain": [-3.48, 140.51], "nice": false, "zero": false}, "axis": null},
  "y": {"datum": -1850, "type": "quantitative", "scale": {"domain": [0, 21386], "nice": false, "zero": false}, "axis": null},
  "text": {"value": "7/24/2015"}}},
{"data": {"values": [{}]}, "mark": {"type": "text", "font": "DejaVu Sans", "fontSize": 9, "align": "center", "baseline": "middle", "color": "#222222"},
 "encoding": {"x": {"datum": 0, "type": "quantitative", "scale": {"domain": [-3.48, 140.51], "nice": false, "zero": false}, "axis": null},
  "y": {"datum": -2110, "type": "quantitative", "scale": {"domain": [0, 21386], "nice": false, "zero": false}, "axis": null},
  "text": {"value": "2015"}}},
{"data": {"values": [{}]}, "mark": {"type": "text", "font": "DejaVu Sans", "fontSize": 11, "align": "left", "baseline": "middle", "color": "#a01818"},
 "encoding": {"x": {"datum": 149.4, "type": "quantitative", "scale": {"domain": [-3.48, 140.51], "nice": false, "zero": false}, "axis": null},
  "y": {"datum": -30, "type": "quantitative", "scale": {"domain": [0, 21386], "nice": false, "zero": false}, "axis": null},
  "text": {"value": "0.00"}}},
{"data": {"values": [{}]}, "mark": {"type": "rect", "fill": "#ffffff", "stroke": "#222222", "strokeWidth": 1, "cornerRadius": 3},
 "encoding": {"x": {"datum": 148.1, "type": "quantitative", "scale": {"domain": [-3.48, 140.51], "nice": false, "zero": false}, "axis": null},
  "x2": {"datum": 158.5},
  "y": {"datum": 1406, "type": "quantitative", "scale": {"domain": [0, 21386], "nice": false, "zero": false}, "axis": null},
  "y2": {"datum": 296}}},
{"data": {"values": [{}]}, "mark": {"type": "text", "font": "DejaVu Sans", "fontSize": 11, "align": "left", "baseline": "middle", "color": "#111111"},
 "encoding": {"x": {"datum": 149.1, "type": "quantitative", "scale": {"domain": [-3.48, 140.51], "nice": false, "zero": false}, "axis": null},
  "y": {"datum": 880, "type": "quantitative", "scale": {"domain": [0, 21386], "nice": false, "zero": false}, "axis": null},
  "text": {"value": "892.2"}}},
{"data": {"name": "obv"}, "mark": {"type": "line", "color": "#ff9a1a", "strokeWidth": 1.5},
 "encoding": {"x": {"field": "d", "type": "quantitative", "scale": {"domain": [-3.48, 140.51], "nice": false, "zero": false}, "axis": null},
  "y": {"field": "v", "type": "quantitative", "scale": {"domain": [-55.7, 2834.3], "nice": false, "zero": false}, "axis": null}}},
{"data": {"values": [{}]}, "mark": {"type": "rect", "fill": "#ffffff", "stroke": "#222222", "strokeWidth": 1, "cornerRadius": 3},
 "encoding": {"x": {"datum": 158.2, "type": "quantitative", "scale": {"domain": [-3.48, 140.51], "nice": false, "zero": false}, "axis": null},
  "x2": {"datum": 170.2},
  "y": {"datum": 54.3, "type": "quantitative", "scale": {"domain": [-55.7, 2834.3], "nice": false, "zero": false}, "axis": null},
  "y2": {"datum": -95.7}}},
{"data": {"values": [{}]}, "mark": {"type": "text", "font": "DejaVu Sans", "fontSize": 11, "align": "left", "baseline": "middle", "color": "#111111"},
 "encoding": {"x": {"datum": 159.4, "type": "quantitative", "scale": {"domain": [-3.48, 140.51], "nice": false, "zero": false}, "axis": null},
  "y": {"datum": -20.7, "type": "quantitative", "scale": {"domain": [-55.7, 2834.3], "nice": false, "zero": false}, "axis": null},
  "text": {"value": "21.3M"}}}
]
}
